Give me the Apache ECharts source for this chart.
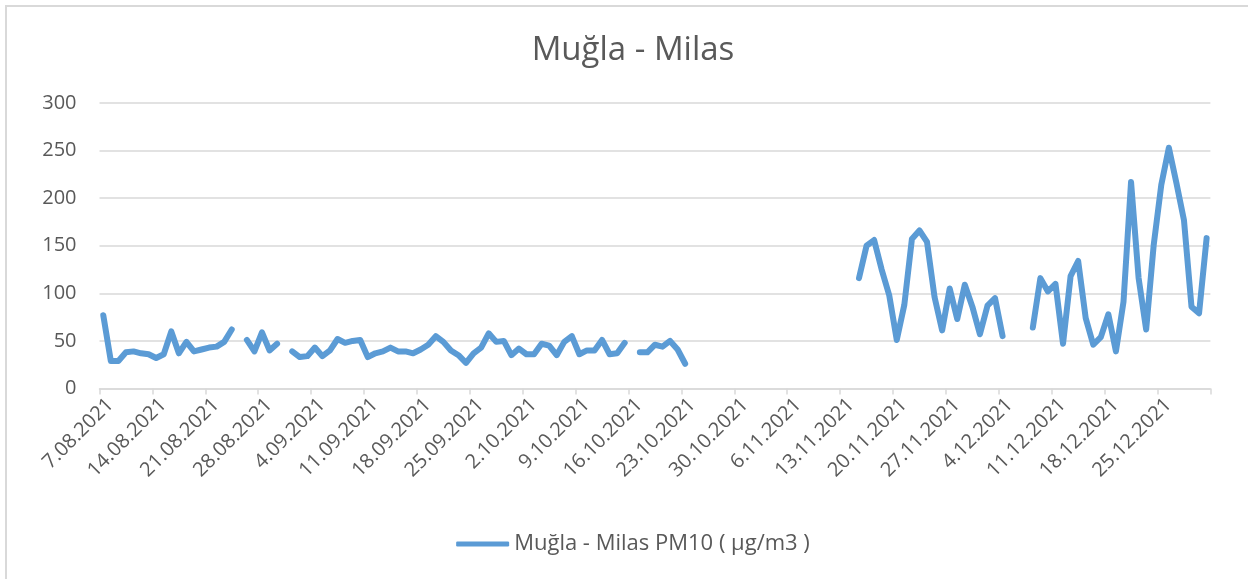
<!DOCTYPE html>
<html>
<head>
  <meta charset="utf-8">
  <title>Muğla - Milas</title>
  <script src="https://cdn.jsdelivr.net/npm/echarts@6/dist/echarts.min.js"></script>
  <style>
    html, body { margin: 0; padding: 0; background: #fff; overflow: hidden; }
    #frame { position: absolute; left: 0; top: 0; width: 1248px; height: 579px; overflow: hidden; }
    #main { position: absolute; left: 5px; top: 5px; width: 1254px; height: 600px;
            border-left: 2px solid #d9d9d9; border-top: 2px solid #d9d9d9; box-sizing: border-box; }
  </style>
</head>
<body>
<div id="frame"><div id="main"></div></div>
<script type="text/javascript">
  // daily dates 7.08.2021 .. 31.12.2021
  var startDate = new Date(2021, 7, 7);
  var dayCount = 147;
  var dates = [];
  for (var d = 0; d < dayCount; d++) {
    var dt = new Date(startDate.getFullYear(), startDate.getMonth(), startDate.getDate() + d);
    var mm = dt.getMonth() + 1;
    dates.push(dt.getDate() + '.' + (mm < 10 ? '0' + mm : mm) + '.' + dt.getFullYear());
  }

  var aug = [77, 29, 29, 38, 39, 37, 36, 32, 36, 60, 37, 49, 39, 41, 43, 44, 49, 62,
             null, 51, 39, 59, 40, 47, null];
  var sep = [39, 33, 34, 43, 34, 40, 52, 48, 50, 51, 33, 37, 39, 43, 39, 39, 37, 41,
             46, 55, 49, 40, 35, 27, 37];
  var oct = [43, 58, 49, 50, 35, 42, 36, 36, 47, 45, 35, 49, 55, 36, 40, 40, 51, 36, 37, 48,
             null, 38, 38, 46, 44, 50, 41, 26];
  var gapNov = [null, null, null, null, null, null, null, null, null, null, null,
                null, null, null, null, null, null, null, null, null, null, null];
  var nov = [116, 150, 156, 125, 98, 51, 88, 157, 166, 154, 96, 61, 105, 73, 109, 86, 57, 87, 95, 55,
             null, null, null];
  var dec = [64, 116, 102, 110, 47, 118, 134, 74, 46, 54, 78, 39, 91, 217, 116, 62, 151, 214,
             253, 216, 177, 86, 79, 158];
  var pm10 = aug.concat(sep, oct, gapNov, nov, dec);

  var yTicks = [0, 50, 100, 150, 200, 250, 300];
  var seriesName = 'Muğla - Milas PM10 ( µg/m3 )';

  var myChart = echarts.init(document.getElementById('main'));
  var textColor = '#595959';
  var font = '"Open Sans", sans-serif';

  var option = {
    animation: false,
    title: {
      text: 'Muğla - Milas',
      left: 'center',
      top: 22,
      textStyle: { fontFamily: font, fontSize: 33, fontWeight: 'normal', color: textColor }
    },
    legend: {
      data: [seriesName],
      left: 'center',
      top: 521,
      icon: 'roundRect',
      itemWidth: 53,
      itemHeight: 5,
      itemGap: 5,
      textStyle: { fontFamily: font, fontSize: 22, color: textColor }
    },
    grid: { left: 92.5, right: 48.6, top: 96, bottom: 216.5, containLabel: false },
    xAxis: {
      type: 'category',
      data: dates,
      boundaryGap: true,
      axisLine: { lineStyle: { color: '#d9d9d9', width: 1.5 } },
      axisTick: { show: true, interval: 6, length: 6, lineStyle: { color: '#d9d9d9', width: 1.5 } },
      axisLabel: { interval: 6, rotate: 45, margin: 6, verticalAlign: 'top',
                   fontFamily: font, fontSize: 20, color: textColor }
    },
    yAxis: {
      type: 'value',
      min: yTicks[0],
      max: yTicks[yTicks.length - 1],
      interval: 50,
      axisLine: { show: false },
      axisTick: { show: false },
      axisLabel: { margin: 23, fontFamily: font, fontSize: 20, color: textColor },
      splitLine: { lineStyle: { color: '#d9d9d9', width: 1.5 } }
    },
    series: [{
      name: seriesName,
      type: 'line',
      data: pm10,
      symbol: 'none',
      connectNulls: false,
      itemStyle: { color: '#5b9bd5' },
      lineStyle: { color: '#5b9bd5', width: 6, cap: 'round', join: 'round' }
    }]
  };

  myChart.setOption(option);
</script>
</body>
</html>
